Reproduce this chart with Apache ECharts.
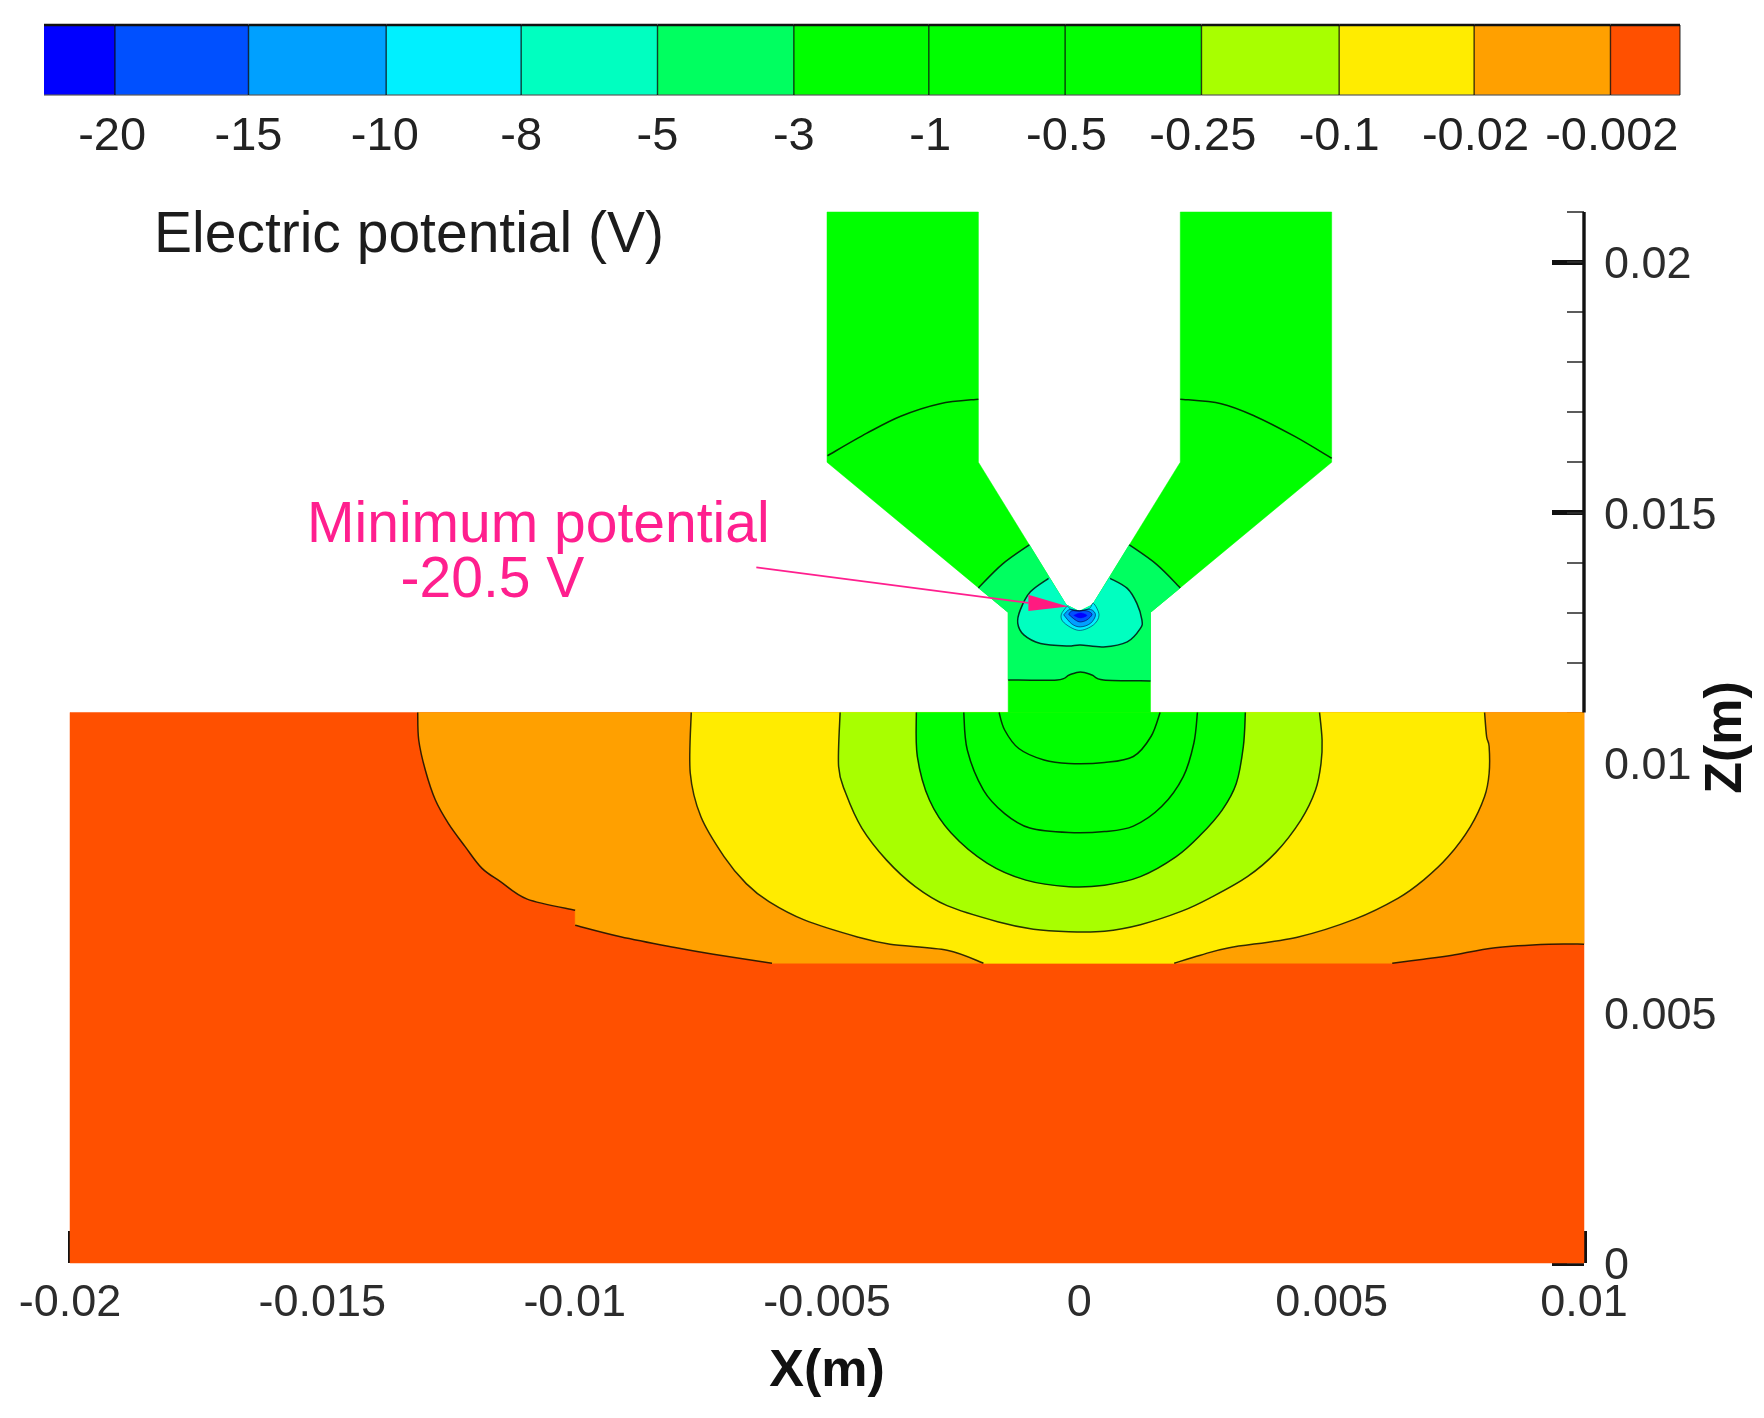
<!DOCTYPE html>
<html>
<head>
<meta charset="utf-8">
<style>html,body{margin:0;padding:0;background:#fff}#c{width:1764px;height:1418px}</style>
<script src="https://cdn.jsdelivr.net/npm/echarts@6/dist/echarts.min.js"></script>
</head>
<body>
<div id="c"></div>
<script>
// ---- colour-bar ----
const levels = ['-20','-15','-10','-8','-5','-3','-1','-0.5','-0.25','-0.1','-0.02','-0.002'];
const levelPositions = [0,1,2,3,4,5,6,7,8,9,10,11];
const bandEdges = [-0.5,0.02,1,2.01,3,4,5,5.99,6.99,7.99,9,9.99,10.99,11.5];
const bandColors = ['#0000ff','#0050ff','#00a0ff','#00f0ff','#00ffc0','#00ff60','#00ff00','#00ff00','#00ff00','#a8ff00','#ffec00','#ffa000','#ff5000'];

// ---- axis ticks (m) ----
const xTicks = [-0.02,-0.015,-0.01,-0.005,0,0.005,0.01];
const zTicks = [0,0.005,0.01,0.015,0.02];

// ---- geometry and contours, [x mm, z mm] ----
const plateOutline = [[-20,0],[10,0],[10,11],[-20,11]];
const nozzleOutline = [[-5,21],[-2,21],[-2,16],[-0.26,13.15],[0,13.02],[0.26,13.15],[2,16],[2,21],[5,21],[5,16],[1.41,13],[1.41,11],[-1.41,11],[-1.41,13],[-5,16]];
const axisSpine = [[10,11],[10,21]];

const orangeUpper = [[-13.11,11],[-13.09,10.45],[-12.96,9.85],[-12.76,9.25],[-12.5,8.78],[-12.17,8.32],[-11.84,7.89],[-11.47,7.62],[-10.94,7.27],[-9.99,7.05]];
const orangeLower = [[-9.99,6.75],[-9.09,6.52],[-8.04,6.31],[-7.25,6.17],[-6.09,5.99]];
const orangeRight = [[6.2,5.99],[6.82,6.07],[7.39,6.15],[8.24,6.3],[9.31,6.37],[10,6.37]];
const yellowLeft = [[-7.69,11],[-7.71,9.79],[-7.5,8.92],[-7.04,8.12],[-6.6,7.58],[-6.15,7.22],[-5.44,6.85],[-4.38,6.51],[-3.75,6.37],[-2.62,6.25],[-1.9,5.99]];
const yellowRight = [[1.88,5.99],[2.4,6.15],[2.97,6.3],[4.32,6.51],[5.46,6.87],[6.32,7.29],[6.82,7.65],[7.31,8.12],[7.75,8.72],[8.03,9.32],[8.12,9.78],[8.12,10.32],[8.07,10.52],[8.03,11]];
const limeLine = [[-4.74,11],[-4.77,9.92],[-4.63,9.39],[-4.31,8.69],[-3.82,8.05],[-3.25,7.52],[-2.62,7.14],[-1.62,6.82],[-0.91,6.67],[-0.21,6.62],[0.5,6.63],[1.21,6.76],[2.03,7.03],[2.6,7.3],[3.33,7.72],[3.89,8.2],[4.39,8.85],[4.68,9.45],[4.79,9.99],[4.81,10.45],[4.76,11]];
const greenLine = [[-3.23,11],[-3.21,10.12],[-2.97,9.25],[-2.54,8.59],[-1.83,7.99],[-1.06,7.65],[-0.21,7.52],[0.5,7.55],[1.21,7.72],[1.92,8.12],[2.4,8.55],[2.83,9.05],[3.11,9.58],[3.25,10.32],[3.29,11]];
const innerLineA = [[-2.29,11],[-2.22,10.25],[-1.9,9.45],[-1.48,8.98],[-0.98,8.69],[-0.21,8.6],[0.5,8.62],[1.07,8.73],[1.63,9.12],[2.06,9.72],[2.27,10.39],[2.34,11]];
const innerLineB = [[-1.59,11],[-1.48,10.65],[-1.2,10.28],[-0.7,10.05],[-0.21,9.98],[0.5,10],[1.07,10.12],[1.42,10.52],[1.6,11]];

const armLeftLine = [[-4.99,16.13],[-4.21,16.58],[-3.54,16.92],[-2.76,17.17],[-2,17.26]];
const armRightLine = [[2,17.26],[2.81,17.17],[3.48,16.92],[4.26,16.52],[5,16.08]];
const neckUpperLeft = [[-0.99,14.35],[-1.53,13.96],[-2,13.49]];
const neckUpperRight = [[2,13.49],[1.53,13.96],[0.99,14.35]];
const neckLower = [[-1.41,11.65],[-0.44,11.65],[-0.2,11.75],[0.02,11.81],[0.25,11.75],[0.48,11.65],[1.41,11.63]];
const aquaLine = [[-0.61,13.68],[-0.97,13.41],[-1.17,13.05],[-1.22,12.78],[-1.1,12.55],[-0.77,12.38],[-0.24,12.33],[0.02,12.35],[0.48,12.31],[0.95,12.41],[1.21,12.68],[1.24,12.85],[1.14,13.18],[0.95,13.48],[0.61,13.68]];
const blueRing1 = [[-0.24,13.13],[-0.36,12.95],[-0.3,12.79],[-0.01,12.64],[0.28,12.75],[0.39,12.95],[0.28,13.18],[0.2,13.08],[0,13.03],[-0.15,13.05],[-0.24,13.13]];
const blueRing2 = [[-0.31,12.95],[-0.15,12.77],[0.02,12.71],[0.22,12.78],[0.32,12.95],[0.22,13.06],[0,13.03],[-0.19,13.06],[-0.31,12.95]];
const blueRing3 = [[-0.21,12.96],[-0.08,12.85],[0.02,12.81],[0.15,12.85],[0.25,12.96],[0.15,13.03],[0,13.03],[-0.15,13.03],[-0.21,12.96]];
const blueRing4 = [[-0.11,12.94],[0.02,12.89],[0.15,12.94],[0.02,12.99],[-0.11,12.94]];

// ---- annotation ----
const arrowLine = [[-6.4,13.9],[-1.01,13.19]];
const arrowHead = [[-0.22,13.12],[-1.01,13.35],[-1.01,13.03]];
const noteLines = [{text:'Minimum potential',at:[-10.72,14.72]},{text:'-20.5 V',at:[-11.63,13.63]}];

// ---- assembling the fills and strokes ----
// each fill is a list of runs: a run is drawn as a curve, runs join with straight edges
const corners = list => list.map(p=>[p]);
const wedgeCorners = [[0.59,13.68],[0.26,13.15],[0,13.02],[-0.26,13.15],[-0.59,13.68]];
const neckWedge = [[0.99,14.35],[0.26,13.15],[0,13.02],[-0.26,13.15]];
const fills = [
  {color:'#ff5000',runs:corners(plateOutline)},
  {color:'#ffa000',runs:[orangeUpper,orangeLower,orangeRight,[[10,11]]]},
  {color:'#ffec00',runs:[yellowLeft,yellowRight]},
  {color:'#a8ff00',runs:[limeLine]},
  {color:'#00ff00',runs:[greenLine]},
  {color:'#00ff00',runs:corners(nozzleOutline)},
  {color:'#00ff60',runs:[neckUpperLeft,[[-1.41,13]],neckLower,[[1.41,13]],neckUpperRight,...corners(neckWedge)]},
  {color:'#00ffc0',runs:[aquaLine,...corners(wedgeCorners)]},
  {color:'#00eeff',runs:[blueRing1]},
  {color:'#00a0ff',runs:[blueRing2]},
  {color:'#0050ff',runs:[blueRing3]},
  {color:'#0000ff',runs:[blueRing4]}
];
const strokes = [orangeUpper,orangeLower,orangeRight,yellowLeft,yellowRight,limeLine,greenLine,innerLineA,innerLineB,armLeftLine,armRightLine,neckUpperLeft,neckUpperRight,neckLower,aquaLine];
const thinStrokes = [blueRing1,blueRing2,blueRing3];

const chart = echarts.init(document.getElementById('c'));
const labelFont = 'Liberation Sans, Arial, sans-serif';
const toPx = (api,pts)=>pts.map(p=>api.coord([p[0]/1000,p[1]/1000]));
const f2 = v=>v.toFixed(2);

// Catmull-Rom bezier through the read points; no points are added to the data.
function runPath(pts,first){
  let d = (first?'M':'L')+f2(pts[0][0])+' '+f2(pts[0][1]);
  for(let i=0;i<pts.length-1;i++){
    const p0=pts[Math.max(i-1,0)],p1=pts[i],p2=pts[i+1],p3=pts[Math.min(i+2,pts.length-1)];
    d+='C'+f2(p1[0]+(p2[0]-p0[0])/6)+' '+f2(p1[1]+(p2[1]-p0[1])/6)+' '+f2(p2[0]-(p3[0]-p1[0])/6)+' '+f2(p2[1]-(p3[1]-p1[1])/6)+' '+f2(p2[0])+' '+f2(p2[1]);
  }
  return d;
}

function renderField(params,api){
  const kids = fills.map(f=>({type:'path',shape:{pathData:f.runs.map((r,i)=>runPath(toPx(api,r),i===0)).join('')+'Z'},style:{fill:f.color,stroke:f.color,lineWidth:0.5}}));
  strokes.forEach(s=>kids.push({type:'path',shape:{pathData:runPath(toPx(api,s),true)},style:{fill:null,stroke:'rgba(0,0,0,0.8)',lineWidth:1.5}}));
  thinStrokes.forEach(s=>kids.push({type:'path',shape:{pathData:runPath(toPx(api,s),true)},style:{fill:null,stroke:'rgba(0,0,40,0.5)',lineWidth:1}}));
  kids.push({type:'polyline',shape:{points:toPx(api,axisSpine)},style:{fill:null,stroke:'#111',lineWidth:3.4}});
  kids.push({type:'polyline',shape:{points:toPx(api,arrowLine)},style:{fill:null,stroke:'#ff1f8e',lineWidth:1.6}});
  kids.push({type:'polygon',shape:{points:toPx(api,arrowHead)},style:{fill:'#ff1a80'}});
  noteLines.forEach(n=>{
    const c = api.coord([n.at[0]/1000,n.at[1]/1000]);
    kids.push({type:'text',x:c[0],y:c[1],style:{text:n.text,fill:'#ff1f8e',font:'57px '+labelFont,textAlign:'center',textVerticalAlign:'middle'}});
  });
  return {type:'group',children:kids};
}

function renderBand(params,api){
  const i = params.dataIndex;
  const a = api.coord([bandEdges[i],0]), b = api.coord([bandEdges[i+1],1]);
  const kids = [{type:'rect',shape:{x:a[0],y:b[1],width:b[0]-a[0],height:a[1]-b[1]},style:{fill:bandColors[i]}},
    {type:'line',shape:{x1:a[0],y1:a[1],x2:b[0],y2:a[1]},style:{stroke:'rgba(90,90,90,0.6)',lineWidth:2}},
    {type:'line',shape:{x1:a[0],y1:b[1],x2:b[0],y2:b[1]},style:{stroke:'#111',lineWidth:2.6}}];
  if(i>0) kids.push({type:'line',shape:{x1:a[0],y1:a[1],x2:a[0],y2:b[1]},style:{stroke:'rgba(0,0,0,0.75)',lineWidth:1.4}});
  if(i===bandColors.length-1) kids.push({type:'line',shape:{x1:b[0],y1:a[1],x2:b[0],y2:b[1]},style:{stroke:'rgba(0,0,0,0.6)',lineWidth:1.4}});
  return {type:'group',children:kids};
}

chart.setOption({
  animation:false,
  backgroundColor:'#fff',
  title:{text:'Electric potential (V)',left:149,top:203,textStyle:{fontFamily:labelFont,fontSize:57,fontWeight:'normal',color:'#1c1c1c'}},
  grid:[
    {left:70,top:212,width:1514,height:1051,outerBoundsMode:'none',containLabel:false},
    {left:44,top:25,width:1636,height:70,outerBoundsMode:'none',containLabel:false}
  ],
  xAxis:[
    {gridIndex:0,type:'value',min:-0.02,max:0.01,interval:0.005,
     name:'X(m)',nameLocation:'middle',nameGap:83,nameMoveOverlap:false,
     nameTextStyle:{fontFamily:labelFont,fontSize:52,fontWeight:'bold',color:'#111'},
     axisLine:{show:false,onZero:false},splitLine:{show:false},
     axisTick:{inside:true,length:32,lineStyle:{color:'#111',width:5},customValues:xTicks},
     axisLabel:{customValues:xTicks,margin:18,fontFamily:labelFont,fontSize:45,color:'#2c2c2c'}},
    {gridIndex:1,type:'value',min:-0.5,max:11.5,
     axisLine:{show:false,onZero:false},axisTick:{show:false},splitLine:{show:false},
     axisLabel:{customValues:levelPositions,formatter:v=>levels[v],margin:19,fontFamily:labelFont,fontSize:47,color:'#222'}}
  ],
  yAxis:[
    {gridIndex:0,type:'value',position:'right',min:0,max:0.021,interval:0.005,
     name:'Z(m)',nameLocation:'middle',nameGap:117,nameRotate:90,nameMoveOverlap:false,
     nameTextStyle:{fontFamily:labelFont,fontSize:52,fontWeight:'bold',color:'#111'},
     axisLine:{show:false,onZero:false},splitLine:{show:false},
     axisTick:{inside:true,length:32,lineStyle:{color:'#111',width:5},customValues:zTicks},
     axisLabel:{customValues:zTicks,margin:20,verticalAlign:'top',lineHeight:8,fontFamily:labelFont,fontSize:45,color:'#2c2c2c'}},
    {gridIndex:0,type:'value',position:'right',min:0,max:0.021,interval:0.001,
     axisLine:{show:false,onZero:false},splitLine:{show:false},axisLabel:{show:false},
     axisTick:{inside:true,length:17,lineStyle:{color:'#333',width:1.6}}},
    {gridIndex:1,type:'value',min:0,max:1,show:false}
  ],
  series:[
    {type:'custom',xAxisIndex:0,yAxisIndex:0,coordinateSystem:'cartesian2d',silent:true,clip:false,
     data:[[0,0]],renderItem:renderField},
    {type:'custom',xAxisIndex:1,yAxisIndex:2,coordinateSystem:'cartesian2d',silent:true,clip:false,
     data:bandColors.map((c,i)=>[bandEdges[i],1]),renderItem:renderBand}
  ]
});
</script>
</body>
</html>
